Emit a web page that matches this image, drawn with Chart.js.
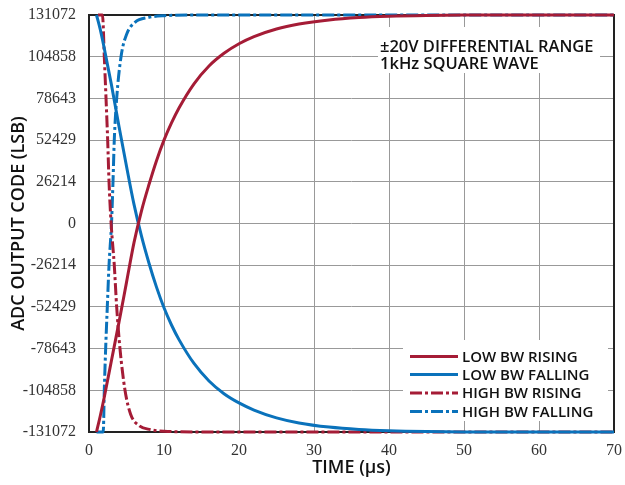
<!DOCTYPE html>
<html>
<head>
<meta charset="utf-8">
<script src="https://cdn.jsdelivr.net/npm/chart.js@4.4.1/dist/chart.umd.min.js"></script>
<style>
  html, body { margin: 0; padding: 0; background: #fff; }
  #wrap { width: 625px; height: 485px; }
</style>
</head>
<body>
<div id="wrap"><canvas id="stepChart"></canvas></div>
<script>
// values (time in µs, code in LSB)
const lowTime    = [1, 1.5, 2, 3, 4, 5, 6, 7, 8, 9, 10, 11, 12, 14, 16, 18, 20, 22, 25, 28, 32, 36, 40, 45, 50, 60, 70];
const lowRising  = [-131072, -121000, -110000, -86000, -62000, -37000, -12000, 8000, 24500, 39500, 52400, 63200, 72600, 87800, 99000, 107000, 113000, 117500, 122300, 125400, 128000, 129500, 130300, 130800, 131000, 131072, 131072];
const lowFalling = [131072, 122000, 111000, 87000, 61000, 36000, 12000, -8000, -25000, -40000, -53000, -63800, -73000, -88000, -99000, -107000, -112800, -117300, -122200, -125400, -128000, -129500, -130300, -130800, -131000, -131072, -131072];

const highRiseTime = [1.2, 1.8, 2.04, 2.27, 2.49, 2.67, 2.95, 3.37, 3.69, 4.13, 4.8, 5.56, 6.67, 8.2, 10, 15, 70];
const highRising   = [131072, 131072, 104858, 78643, 52429, 26214, 0, -26214, -52429, -78643, -104858, -120000, -127000, -129600, -130600, -131072, -131072];
const highFallTime = [1.0, 1.9, 2.04, 2.22, 2.44, 2.67, 3.0, 3.2, 3.37, 3.69, 4.27, 5.02, 6.13, 7.9, 10, 15, 70];
const highFalling  = [-131072, -131072, -104858, -78643, -52429, -26214, 0, 26214, 52429, 78643, 104858, 119000, 126500, 129500, 130600, 131072, 131072];

const yTicks = [-131072, -104858, -78643, -52429, -26214, 0, 26214, 52429, 78643, 104858, 131072];
const xTicks = [0, 10, 20, 30, 40, 50, 60, 70];

const seriesNames = ['LOW BW RISING', 'LOW BW FALLING', 'HIGH BW RISING', 'HIGH BW FALLING'];
const noteLines = ['\u00B120V DIFFERENTIAL RANGE', '1kHz SQUARE WAVE'];

const RED = '#a51c36';
const BLUE = '#0a72bb';
const DASHDOT = [12, 3, 3, 3];
const SANS = '"Open Sans", "Noto Sans"';

function pts(xs, ys) {
    return xs.map((x, i) => ({ x: x, y: ys[i] }));
}

function lineSet(label, xs, ys, color, dash) {
    return {
        label: label,
        data: pts(xs, ys),
        borderColor: color,
        backgroundColor: color,
        borderWidth: 3,
        borderDash: dash,
        pointRadius: 0,
        cubicInterpolationMode: 'monotone',
        fill: false,
        clip: 4
    };
}

// frame, note box and legend box drawn by hand
const decorations = {
    id: 'decorations',
    beforeDatasetsDraw(chart) {
        const ctx = chart.ctx;
        const a = chart.chartArea;
        ctx.save();
        ctx.fillStyle = '#fff';
        ctx.fillRect(378, 27, 222, 46);
        ctx.fillRect(403, 340, 205, 81);
        ctx.strokeStyle = '#222';
        ctx.lineWidth = 2;
        ctx.strokeRect(a.left, a.top, a.right - a.left, a.bottom - a.top);

        ctx.fillStyle = '#111';
        ctx.font = '600 16.5px ' + SANS;
        ctx.textBaseline = 'middle';
        ctx.textAlign = 'left';
        ctx.fillText(noteLines[0], 380, 47);
        ctx.fillText(noteLines[1], 380, 64);

        ctx.font = '600 15px ' + SANS;
        const rows = [356.5, 374.5, 393, 411.5];
        chart.data.datasets.forEach((ds, i) => {
            ctx.strokeStyle = ds.borderColor;
            ctx.lineWidth = 3;
            ctx.setLineDash(ds.borderDash || []);
            ctx.beginPath();
            ctx.moveTo(410, rows[i]);
            ctx.lineTo(458, rows[i]);
            ctx.stroke();
            ctx.setLineDash([]);
            ctx.fillText(ds.label, 462, rows[i] + 1);
        });
        ctx.restore();
    }
};

new Chart(document.getElementById('stepChart'), {
    type: 'line',
    data: {
        datasets: [
            lineSet(seriesNames[0], lowTime, lowRising, RED, []),
            lineSet(seriesNames[1], lowTime, lowFalling, BLUE, []),
            lineSet(seriesNames[2], highRiseTime, highRising, RED, DASHDOT),
            lineSet(seriesNames[3], highFallTime, highFalling, BLUE, DASHDOT)
        ]
    },
    options: {
        responsive: true,
        maintainAspectRatio: false,
        animation: false,
        layout: { padding: { top: 15, right: 11, left: 8, bottom: 6 } },
        plugins: {
            legend: { display: false },
            tooltip: { enabled: false }
        },
        scales: {
            x: {
                type: 'linear',
                min: 0,
                max: 70,
                afterBuildTicks: s => { s.ticks = xTicks.map(v => ({ value: v })); },
                afterFit: s => { s.height = 47; s.paddingLeft = 0; s.paddingRight = 0; },
                grid: { color: '#999', lineWidth: 1, drawTicks: false },
                border: { display: false },
                ticks: {
                    padding: 9,
                    color: '#333',
                    font: { family: '"Liberation Serif"', size: 16 },
                    maxRotation: 0
                },
                title: {
                    display: true,
                    text: 'TIME (\u00B5s)',
                    color: '#111',
                    padding: { top: 0, bottom: 0 },
                    font: { family: SANS, size: 18, weight: '600' }
                }
            },
            y: {
                type: 'linear',
                min: -131072,
                max: 131072,
                afterBuildTicks: s => { s.ticks = yTicks.map(v => ({ value: v })); },
                afterFit: s => { s.width = 81; s.paddingTop = 0; s.paddingBottom = 0; },
                grid: { color: '#999', lineWidth: 1, drawTicks: false },
                border: { display: false },
                ticks: {
                    padding: 13,
                    color: '#333',
                    font: { family: '"Liberation Serif"', size: 16 },
                    callback: v => String(v)
                },
                title: {
                    display: true,
                    text: 'ADC OUTPUT CODE (LSB)',
                    color: '#111',
                    padding: { top: 0, bottom: 2 },
                    font: { family: SANS, size: 18, weight: '600' }
                }
            }
        }
    },
    plugins: [decorations]
});
</script>
</body>
</html>
